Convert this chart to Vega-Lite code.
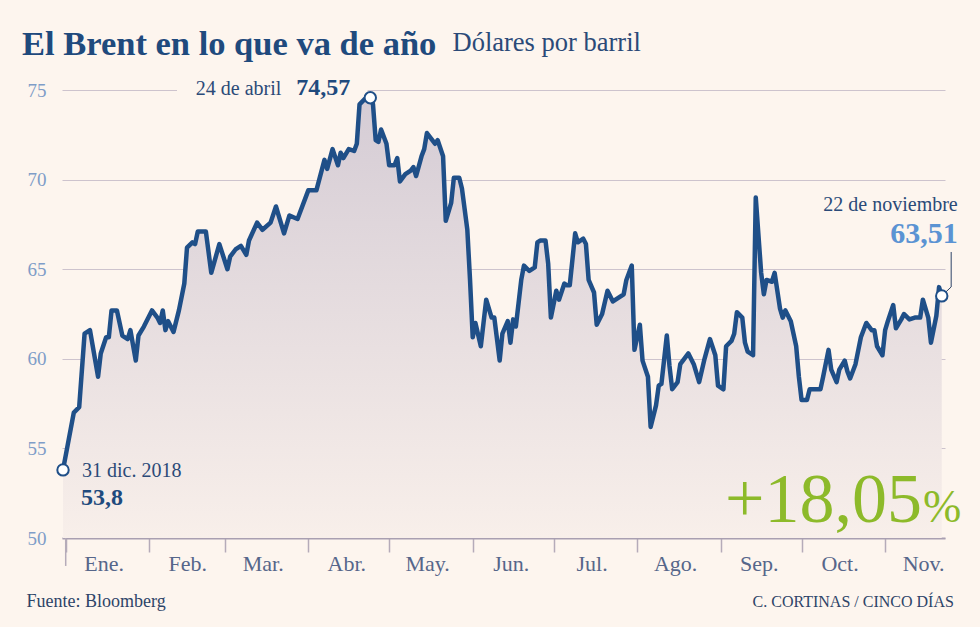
{
  "$schema": "https://vega.github.io/schema/vega-lite/v6.json",
  "width": 883,
  "height": 448,
  "autosize": "none",
  "padding": {"left": 62, "top": 90, "right": 35, "bottom": 89},
  "background": "#fdf5ee",
  "config": {"view": {"stroke": null}, "text": {"font": "Liberation Serif"}},
  "title": {"text": "El Brent en lo que va de año", "anchor": "start", "frame": "group", "dx": -40, "offset": -60, "font": "Liberation Serif", "fontSize": 34.5, "fontWeight": "bold", "color": "#1f4a7d", "baseline": "alphabetic"},
  "datasets": {
    "brent": [
      {"date": "2018-12-31", "value": 53.8},
      {"date": "2019-01-04", "value": 57.0},
      {"date": "2019-01-06", "value": 57.3},
      {"date": "2019-01-08", "value": 61.4},
      {"date": "2019-01-10", "value": 61.6},
      {"date": "2019-01-13", "value": 59.0},
      {"date": "2019-01-14", "value": 60.3},
      {"date": "2019-01-16", "value": 61.2},
      {"date": "2019-01-17", "value": 61.2},
      {"date": "2019-01-18", "value": 62.7},
      {"date": "2019-01-20", "value": 62.7},
      {"date": "2019-01-22", "value": 61.3},
      {"date": "2019-01-24", "value": 61.1},
      {"date": "2019-01-25", "value": 61.6},
      {"date": "2019-01-27", "value": 59.9},
      {"date": "2019-01-28", "value": 61.3},
      {"date": "2019-01-30", "value": 61.8},
      {"date": "2019-02-02", "value": 62.7},
      {"date": "2019-02-04", "value": 62.3},
      {"date": "2019-02-05", "value": 62.0},
      {"date": "2019-02-06", "value": 62.7},
      {"date": "2019-02-07", "value": 61.6},
      {"date": "2019-02-08", "value": 62.1},
      {"date": "2019-02-10", "value": 61.5},
      {"date": "2019-02-12", "value": 62.7},
      {"date": "2019-02-14", "value": 64.2},
      {"date": "2019-02-15", "value": 66.2},
      {"date": "2019-02-17", "value": 66.5},
      {"date": "2019-02-18", "value": 66.4},
      {"date": "2019-02-19", "value": 67.1},
      {"date": "2019-02-22", "value": 67.1},
      {"date": "2019-02-24", "value": 64.8},
      {"date": "2019-02-27", "value": 66.4},
      {"date": "2019-03-02", "value": 65.0},
      {"date": "2019-03-03", "value": 65.7},
      {"date": "2019-03-05", "value": 66.1},
      {"date": "2019-03-07", "value": 66.3},
      {"date": "2019-03-09", "value": 65.8},
      {"date": "2019-03-10", "value": 66.6},
      {"date": "2019-03-13", "value": 67.6},
      {"date": "2019-03-15", "value": 67.2},
      {"date": "2019-03-18", "value": 67.6},
      {"date": "2019-03-20", "value": 68.5},
      {"date": "2019-03-23", "value": 67.0},
      {"date": "2019-03-25", "value": 68.0},
      {"date": "2019-03-28", "value": 67.8},
      {"date": "2019-04-01", "value": 69.4},
      {"date": "2019-04-04", "value": 69.4},
      {"date": "2019-04-07", "value": 71.1},
      {"date": "2019-04-08", "value": 70.6},
      {"date": "2019-04-10", "value": 71.7},
      {"date": "2019-04-12", "value": 70.8},
      {"date": "2019-04-13", "value": 71.5},
      {"date": "2019-04-14", "value": 71.2},
      {"date": "2019-04-16", "value": 71.7},
      {"date": "2019-04-18", "value": 71.6},
      {"date": "2019-04-19", "value": 72.0},
      {"date": "2019-04-20", "value": 74.2},
      {"date": "2019-04-22", "value": 74.5},
      {"date": "2019-04-24", "value": 74.57},
      {"date": "2019-04-25", "value": 74.2},
      {"date": "2019-04-26", "value": 72.2},
      {"date": "2019-04-27", "value": 72.1},
      {"date": "2019-04-28", "value": 72.8},
      {"date": "2019-04-30", "value": 72.0},
      {"date": "2019-05-01", "value": 70.8},
      {"date": "2019-05-03", "value": 70.8},
      {"date": "2019-05-04", "value": 71.2},
      {"date": "2019-05-05", "value": 69.9},
      {"date": "2019-05-07", "value": 70.3},
      {"date": "2019-05-09", "value": 70.5},
      {"date": "2019-05-10", "value": 70.7},
      {"date": "2019-05-11", "value": 70.2},
      {"date": "2019-05-13", "value": 71.3},
      {"date": "2019-05-14", "value": 71.7},
      {"date": "2019-05-15", "value": 72.6},
      {"date": "2019-05-17", "value": 72.2},
      {"date": "2019-05-18", "value": 72.0},
      {"date": "2019-05-19", "value": 72.2},
      {"date": "2019-05-21", "value": 71.3},
      {"date": "2019-05-22", "value": 67.7},
      {"date": "2019-05-24", "value": 68.7},
      {"date": "2019-05-25", "value": 70.1},
      {"date": "2019-05-27", "value": 70.1},
      {"date": "2019-05-28", "value": 69.5},
      {"date": "2019-05-30", "value": 67.2},
      {"date": "2019-05-31", "value": 64.4},
      {"date": "2019-06-01", "value": 61.2},
      {"date": "2019-06-02", "value": 62.0},
      {"date": "2019-06-04", "value": 60.7},
      {"date": "2019-06-05", "value": 62.0},
      {"date": "2019-06-06", "value": 63.3},
      {"date": "2019-06-08", "value": 62.3},
      {"date": "2019-06-09", "value": 62.3},
      {"date": "2019-06-11", "value": 59.9},
      {"date": "2019-06-12", "value": 61.4},
      {"date": "2019-06-14", "value": 62.1},
      {"date": "2019-06-15", "value": 60.9},
      {"date": "2019-06-16", "value": 62.2},
      {"date": "2019-06-17", "value": 61.8},
      {"date": "2019-06-19", "value": 64.4},
      {"date": "2019-06-20", "value": 65.2},
      {"date": "2019-06-22", "value": 64.9},
      {"date": "2019-06-24", "value": 65.1},
      {"date": "2019-06-25", "value": 66.5},
      {"date": "2019-06-26", "value": 66.6},
      {"date": "2019-06-28", "value": 66.6},
      {"date": "2019-06-29", "value": 65.3},
      {"date": "2019-06-30", "value": 62.3},
      {"date": "2019-07-02", "value": 63.8},
      {"date": "2019-07-03", "value": 63.3},
      {"date": "2019-07-05", "value": 64.2},
      {"date": "2019-07-06", "value": 64.1},
      {"date": "2019-07-07", "value": 64.1},
      {"date": "2019-07-09", "value": 67.0},
      {"date": "2019-07-10", "value": 66.5},
      {"date": "2019-07-12", "value": 66.7},
      {"date": "2019-07-13", "value": 66.4},
      {"date": "2019-07-14", "value": 64.4},
      {"date": "2019-07-16", "value": 63.7},
      {"date": "2019-07-17", "value": 61.9},
      {"date": "2019-07-19", "value": 62.5},
      {"date": "2019-07-21", "value": 63.8},
      {"date": "2019-07-23", "value": 63.2},
      {"date": "2019-07-25", "value": 63.4},
      {"date": "2019-07-27", "value": 63.6},
      {"date": "2019-07-28", "value": 64.4},
      {"date": "2019-07-30", "value": 65.2},
      {"date": "2019-07-31", "value": 60.5},
      {"date": "2019-08-02", "value": 61.9},
      {"date": "2019-08-03", "value": 59.9},
      {"date": "2019-08-05", "value": 59.0},
      {"date": "2019-08-06", "value": 56.2},
      {"date": "2019-08-08", "value": 57.4},
      {"date": "2019-08-09", "value": 58.5},
      {"date": "2019-08-10", "value": 58.6},
      {"date": "2019-08-12", "value": 61.3},
      {"date": "2019-08-13", "value": 59.6},
      {"date": "2019-08-14", "value": 58.3},
      {"date": "2019-08-16", "value": 58.7},
      {"date": "2019-08-17", "value": 59.7},
      {"date": "2019-08-20", "value": 60.3},
      {"date": "2019-08-22", "value": 59.7},
      {"date": "2019-08-24", "value": 58.7},
      {"date": "2019-08-26", "value": 60.0},
      {"date": "2019-08-28", "value": 61.1},
      {"date": "2019-08-30", "value": 60.2},
      {"date": "2019-08-31", "value": 58.5},
      {"date": "2019-09-02", "value": 58.3},
      {"date": "2019-09-03", "value": 60.7},
      {"date": "2019-09-05", "value": 61.0},
      {"date": "2019-09-06", "value": 61.4},
      {"date": "2019-09-07", "value": 62.6},
      {"date": "2019-09-09", "value": 62.3},
      {"date": "2019-09-10", "value": 60.9},
      {"date": "2019-09-11", "value": 60.4},
      {"date": "2019-09-13", "value": 60.2},
      {"date": "2019-09-14", "value": 69.0},
      {"date": "2019-09-16", "value": 64.8},
      {"date": "2019-09-17", "value": 63.6},
      {"date": "2019-09-18", "value": 64.4},
      {"date": "2019-09-20", "value": 64.3},
      {"date": "2019-09-21", "value": 64.8},
      {"date": "2019-09-23", "value": 62.8},
      {"date": "2019-09-24", "value": 62.3},
      {"date": "2019-09-25", "value": 62.7},
      {"date": "2019-09-27", "value": 62.1},
      {"date": "2019-09-29", "value": 60.7},
      {"date": "2019-09-30", "value": 59.0},
      {"date": "2019-10-01", "value": 57.7},
      {"date": "2019-10-03", "value": 57.7},
      {"date": "2019-10-04", "value": 58.3},
      {"date": "2019-10-06", "value": 58.3},
      {"date": "2019-10-08", "value": 58.3},
      {"date": "2019-10-09", "value": 59.0},
      {"date": "2019-10-11", "value": 60.5},
      {"date": "2019-10-12", "value": 59.4},
      {"date": "2019-10-14", "value": 58.7},
      {"date": "2019-10-15", "value": 59.4},
      {"date": "2019-10-17", "value": 59.9},
      {"date": "2019-10-18", "value": 59.3},
      {"date": "2019-10-19", "value": 58.9},
      {"date": "2019-10-21", "value": 59.7},
      {"date": "2019-10-23", "value": 61.2},
      {"date": "2019-10-25", "value": 62.0},
      {"date": "2019-10-27", "value": 61.6},
      {"date": "2019-10-28", "value": 61.6},
      {"date": "2019-10-29", "value": 60.7},
      {"date": "2019-10-31", "value": 60.2},
      {"date": "2019-11-01", "value": 61.6},
      {"date": "2019-11-02", "value": 62.1},
      {"date": "2019-11-04", "value": 63.0},
      {"date": "2019-11-05", "value": 61.7},
      {"date": "2019-11-07", "value": 62.2},
      {"date": "2019-11-08", "value": 62.5},
      {"date": "2019-11-10", "value": 62.2},
      {"date": "2019-11-12", "value": 62.3},
      {"date": "2019-11-14", "value": 62.3},
      {"date": "2019-11-15", "value": 63.3},
      {"date": "2019-11-17", "value": 62.3},
      {"date": "2019-11-18", "value": 60.9},
      {"date": "2019-11-20", "value": 62.4},
      {"date": "2019-11-21", "value": 64.0},
      {"date": "2019-11-22", "value": 63.51}
    ],
    "highlights": [
      {"date": "2018-12-31", "value": 53.8},
      {"date": "2019-04-24", "value": 74.57},
      {"date": "2019-11-22", "value": 63.51}
    ],
    "leader": [
      {"date": "2019-11-22T00:00:00Z", "value": 63.51},
      {"date": "2019-11-25T12:00:00Z", "value": 64.01},
      {"date": "2019-11-25T12:00:00Z", "value": 65.96}
    ]
  },
  "layer": [
    {
      "data": {"name": "brent"},
      "mark": {"type": "area", "color": {"gradient": "linear", "x1": 0, "y1": 0, "x2": 0, "y2": 1, "stops": [{"offset": 0, "color": "#d5ccd5"}, {"offset": 1, "color": "#f8efea"}]}},
      "encoding": {
        "x": {
          "field": "date", "type": "temporal",
          "scale": {"type": "utc", "domain": [{"year": 2018, "month": 12, "date": 30, "hours": 15, "utc": true}, {"year": 2019, "month": 11, "date": 23, "hours": 5, "utc": true}]},
          "axis": {
            "values": [
              {"year": 2019, "month": 1, "date": 1, "utc": true},
              {"year": 2019, "month": 2, "date": 1, "utc": true},
              {"year": 2019, "month": 3, "date": 1, "utc": true},
              {"year": 2019, "month": 4, "date": 1, "utc": true},
              {"year": 2019, "month": 5, "date": 1, "utc": true},
              {"year": 2019, "month": 6, "date": 1, "utc": true},
              {"year": 2019, "month": 7, "date": 1, "utc": true},
              {"year": 2019, "month": 8, "date": 1, "utc": true},
              {"year": 2019, "month": 9, "date": 1, "utc": true},
              {"year": 2019, "month": 10, "date": 1, "utc": true},
              {"year": 2019, "month": 11, "date": 1, "utc": true}
            ],
            "labelExpr": "['Ene.','Feb.','Mar.','Abr.','May.','Jun.','Jul.','Ago.','Sep.','Oct.','Nov.','Dic.'][utcmonth(datum.value)]",
            "labelOffset": 38, "labelAlign": "center", "labelBaseline": "alphabetic", "labelPadding": 18,
            "labelFont": "Liberation Serif", "labelFontSize": 22, "labelColor": "#56668a",
            "labelOverlap": false, "labelBound": false, "labelFlush": false,
            "tickSize": 14, "tickColor": "#b5abb9", "tickWidth": 1.5,
            "domainColor": "#a99fb1", "domainWidth": 2, "grid": false,
            "title": "Fuente: Bloomberg", "titleX": -36, "titleY": 68, "titleAlign": "left", "titleBaseline": "alphabetic",
            "titleFont": "Liberation Serif", "titleFontSize": 18, "titleFontWeight": "normal", "titleColor": "#2d4468"
          }
        },
        "y": {
          "field": "value", "type": "quantitative",
          "scale": {"domain": [50, 75], "zero": false, "nice": false},
          "axis": {
            "values": [50, 55, 60, 65, 70, 75],
            "grid": true, "gridColor": "#cdc3cd", "gridWidth": 1.2,
            "domain": false, "ticks": false, "labelPadding": 16,
            "labelFont": "Liberation Serif", "labelFontSize": 19, "labelColor": "#7f9dc8",
            "title": "Dólares por barril", "titleAngle": 0, "titleX": 390, "titleY": -40, "titleAlign": "left", "titleBaseline": "alphabetic",
            "titleFont": "Liberation Serif", "titleFontSize": 26.5, "titleFontWeight": "normal", "titleColor": "#2b4a78"
          }
        },
        "y2": {"datum": 50}
      }
    },
    {
      "data": {"values": [{}]},
      "mark": {"type": "rect", "color": "#fdf5ee"},
      "encoding": {
        "x": {"datum": {"year": 2019, "month": 2, "date": 11, "hours": 7, "utc": true}, "type": "temporal"},
        "x2": {"datum": {"year": 2019, "month": 4, "date": 23, "utc": true}},
        "y": {"datum": 74.75, "type": "quantitative"},
        "y2": {"datum": 75.3}
      }
    },
    {
      "data": {"name": "brent"},
      "mark": {"type": "line", "color": "#1f4f88", "strokeWidth": 4.5, "strokeJoin": "round", "strokeCap": "round"},
      "encoding": {
        "x": {"field": "date", "type": "temporal"},
        "y": {"field": "value", "type": "quantitative"}
      }
    },
    {
      "data": {"values": [{}]},
      "mark": {"type": "rule", "color": "#b5abb9", "strokeWidth": 1.5},
      "encoding": {
        "x": {"datum": {"year": 2019, "month": 1, "date": 1, "utc": true}, "type": "temporal"},
        "y": {"datum": 50, "type": "quantitative"},
        "y2": {"datum": 48.44}
      }
    },
    {
      "data": {"name": "leader"},
      "mark": {"type": "line", "color": "#2d4468", "strokeWidth": 1},
      "encoding": {
        "x": {"field": "date", "type": "temporal"},
        "y": {"field": "value", "type": "quantitative"},
        "order": {"value": 0}
      }
    },
    {
      "data": {"name": "highlights"},
      "mark": {"type": "point", "filled": true, "fill": "#ffffff", "stroke": "#1f4f88", "strokeWidth": 2, "size": 130, "opacity": 1},
      "encoding": {
        "x": {"field": "date", "type": "temporal"},
        "y": {"field": "value", "type": "quantitative"}
      }
    },
    {
      "data": {"values": [{}]},
      "mark": {"type": "text", "text": "24 de abril", "align": "right", "baseline": "alphabetic", "dx": -89, "dy": -3, "fontSize": 20, "color": "#2b4a78"},
      "encoding": {
        "x": {"datum": {"year": 2019, "month": 4, "date": 24, "utc": true}, "type": "temporal"},
        "y": {"datum": 74.57, "type": "quantitative"}
      }
    },
    {
      "data": {"values": [{}]},
      "mark": {"type": "text", "text": "74,57", "align": "right", "baseline": "alphabetic", "dx": -20, "dy": -3, "fontSize": 24, "fontWeight": "bold", "color": "#1f4a7d"},
      "encoding": {
        "x": {"datum": {"year": 2019, "month": 4, "date": 24, "utc": true}, "type": "temporal"},
        "y": {"datum": 74.57, "type": "quantitative"}
      }
    },
    {
      "data": {"values": [{}]},
      "mark": {"type": "text", "text": "31 dic. 2018", "align": "left", "baseline": "alphabetic", "dx": 19, "dy": 7, "fontSize": 20, "color": "#2b4a78"},
      "encoding": {
        "x": {"datum": {"year": 2018, "month": 12, "date": 31, "utc": true}, "type": "temporal"},
        "y": {"datum": 53.8, "type": "quantitative"}
      }
    },
    {
      "data": {"values": [{}]},
      "mark": {"type": "text", "text": "53,8", "align": "left", "baseline": "alphabetic", "dx": 18, "dy": 35, "fontSize": 24, "fontWeight": "bold", "color": "#1f4a7d"},
      "encoding": {
        "x": {"datum": {"year": 2018, "month": 12, "date": 31, "utc": true}, "type": "temporal"},
        "y": {"datum": 53.8, "type": "quantitative"}
      }
    },
    {
      "data": {"values": [{}]},
      "mark": {"type": "text", "text": "22 de noviembre", "align": "right", "baseline": "alphabetic", "dx": 16, "dy": -85, "fontSize": 20, "color": "#2b4a78"},
      "encoding": {
        "x": {"datum": {"year": 2019, "month": 11, "date": 22, "utc": true}, "type": "temporal"},
        "y": {"datum": 63.51, "type": "quantitative"}
      }
    },
    {
      "data": {"values": [{}]},
      "mark": {"type": "text", "text": "63,51", "align": "right", "baseline": "alphabetic", "dx": 16, "dy": -53, "fontSize": 30, "fontWeight": "bold", "color": "#5b93d3"},
      "encoding": {
        "x": {"datum": {"year": 2019, "month": 11, "date": 22, "utc": true}, "type": "temporal"},
        "y": {"datum": 63.51, "type": "quantitative"}
      }
    },
    {
      "data": {"values": [{}]},
      "mark": {"type": "text", "text": "+18,05", "align": "right", "baseline": "alphabetic", "fontSize": 70, "color": "#8dba2a"},
      "encoding": {
        "x": {"datum": {"year": 2019, "month": 11, "date": 14, "hours": 17, "utc": true}, "type": "temporal"},
        "y": {"datum": 50.9, "type": "quantitative"}
      }
    },
    {
      "data": {"values": [{}]},
      "mark": {"type": "text", "text": "%", "align": "left", "baseline": "alphabetic", "dx": 1, "fontSize": 46, "color": "#8dba2a"},
      "encoding": {
        "x": {"datum": {"year": 2019, "month": 11, "date": 14, "hours": 17, "utc": true}, "type": "temporal"},
        "y": {"datum": 50.9, "type": "quantitative"}
      }
    },
    {
      "data": {"values": [{}]},
      "mark": {"type": "text", "text": "C. CORTINAS / CINCO DÍAS", "align": "right", "baseline": "alphabetic", "fontSize": 16, "color": "#2d4468"},
      "encoding": {
        "x": {"datum": {"year": 2019, "month": 11, "date": 26, "hours": 12, "utc": true}, "type": "temporal"},
        "y": {"datum": 46.15, "type": "quantitative"}
      }
    }
  ]
}
